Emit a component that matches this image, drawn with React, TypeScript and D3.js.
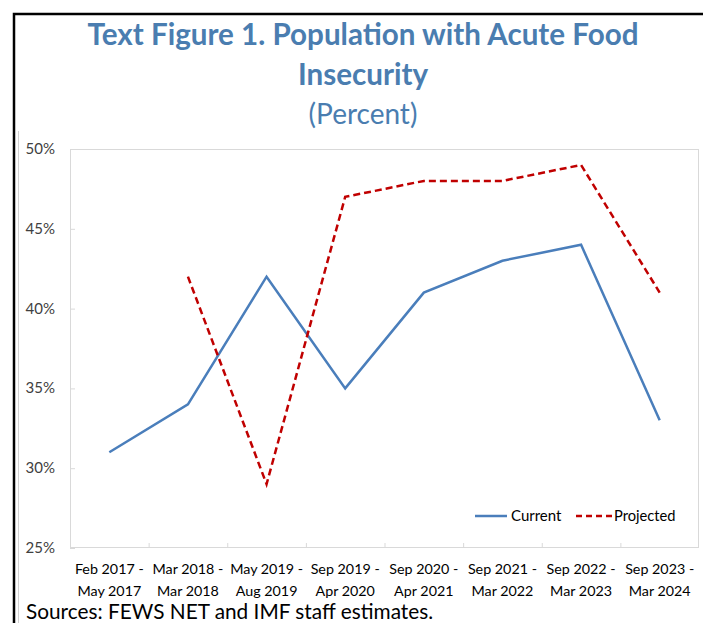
import React from "react";
import * as d3 from "d3";

const categories = [
  ["Feb 2017 -", "May 2017"],
  ["Mar 2018 -", "Mar 2018"],
  ["May 2019 -", "Aug 2019"],
  ["Sep 2019 -", "Apr 2020"],
  ["Sep 2020 -", "Apr 2021"],
  ["Sep 2021 -", "Mar 2022"],
  ["Sep 2022 -", "Mar 2023"],
  ["Sep 2023 -", "Mar 2024"],
];
const current: (number | null)[] = [31, 34, 42, 35, 41, 43, 44, 33];
const projected: (number | null)[] = [null, 42, 29, 47, 48, 48, 49, 41];
const yTicks = [25, 30, 35, 40, 45, 50];

const W = 703;
const H = 623;
const plot = { left: 70, right: 699, top: 149, bottom: 548 };
const blue = "#4A7EBB";
const red = "#C00000";
const titleColor = "#4A7DB0";
const font = "Lato, 'Open Sans', sans-serif";

export default function App() {
  const x = d3
    .scaleBand<number>()
    .domain(d3.range(categories.length))
    .range([plot.left, plot.right]);
  const y = d3.scaleLinear().domain([25, 50]).range([plot.bottom, plot.top]);

  const line = d3
    .line<number | null>()
    .defined((d) => d != null)
    .x((_, i) => (x(i) as number) + x.bandwidth() / 2)
    .y((d) => y(d as number));

  const boundaries = d3.range(1, categories.length).map((i) => x(i) as number);

  return (
    <svg
      width={W}
      height={H}
      style={{ position: "absolute", left: 0, top: 0, background: "#fff" }}
      fontFamily={font}
    >
      <rect x={0} y={0} width={W} height={H} fill="#fff" />
      {/* outer frame */}
      <path d={`M14,${H + 5} L14,14 L${W + 5},14`} fill="none" stroke="#000" strokeWidth={2.5} />
      {/* chart area edge */}
      <line x1={18.5} x2={18.5} y1={131} y2={H} stroke="#d0d0d0" strokeWidth={1} />

      {/* title */}
      <text x={363} y={45} textAnchor="middle" fill={titleColor} fontSize={29.6} fontWeight={700}>
        Text Figure 1. Population with Acute Food
      </text>
      <text x={363} y={85} textAnchor="middle" fill={titleColor} fontSize={29.6} fontWeight={700}>
        Insecurity
      </text>
      <text x={363} y={124} textAnchor="middle" fill={titleColor} fontSize={28}>
        (Percent)
      </text>

      {/* plot frame */}
      <rect
        x={plot.left + 0.5}
        y={plot.top + 0.5}
        width={plot.right - plot.left - 1}
        height={plot.bottom - plot.top - 1}
        fill="none"
        stroke="#d9d9d9"
      />

      {/* y axis */}
      {yTicks.map((t) => (
        <g key={t}>
          <line x1={plot.left} x2={plot.left + 5} y1={y(t) + 0.5} y2={y(t) + 0.5} stroke="#d9d9d9" />
          <text x={55} y={y(t) + 5} textAnchor="end" fontSize={15} fill="#404040">
            {t}%
          </text>
        </g>
      ))}

      {/* x axis */}
      {boundaries.map((b, i) => (
        <line key={i} x1={b + 0.5} x2={b + 0.5} y1={plot.bottom} y2={plot.bottom - 5} stroke="#d9d9d9" />
      ))}
      {categories.map((c, i) => {
        const cx = (x(i) as number) + x.bandwidth() / 2;
        return (
          <text key={i} textAnchor="middle" fontSize={14.3} fill="#000">
            <tspan x={cx} y={574}>{c[0]}</tspan>
            <tspan x={cx} y={596}>{c[1]}</tspan>
          </text>
        );
      })}

      {/* series */}
      <path d={line(current) || ""} fill="none" stroke={blue} strokeWidth={2.5} />
      <path
        d={line(projected) || ""}
        fill="none"
        stroke={red}
        strokeWidth={2.5}
        strokeDasharray="7,4"
      />

      {/* legend */}
      <line x1={475} x2={507} y1={516} y2={516} stroke={blue} strokeWidth={2.5} />
      <text x={511} y={521} fontSize={15} fill="#000">Current</text>
      <line x1={576} x2={612} y1={516} y2={516} stroke={red} strokeWidth={2.5} strokeDasharray="6,4" />
      <text x={614} y={521} fontSize={14.7} fill="#000">Projected</text>

      {/* source note */}
      <text x={26} y={619} fontSize={20.8} fill="#000">
        Sources: FEWS NET and IMF staff estimates.
      </text>
    </svg>
  );
}
